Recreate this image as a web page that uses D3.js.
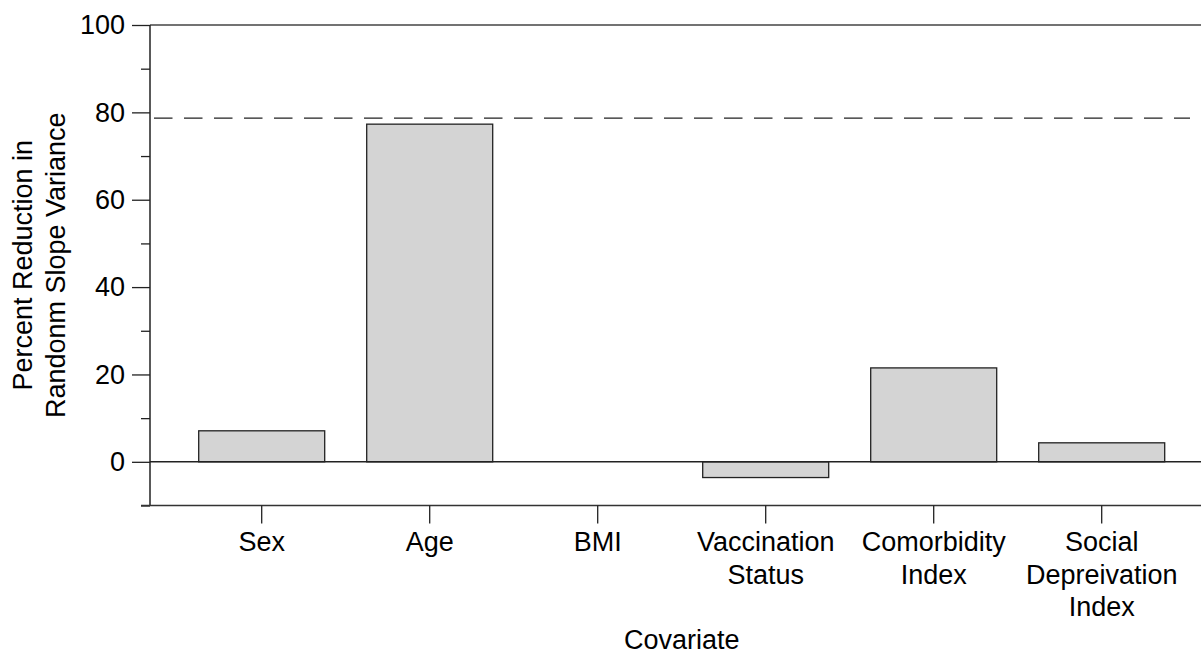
<!DOCTYPE html>
<html>
<head>
<meta charset="utf-8">
<script src="https://cdn.jsdelivr.net/npm/d3@7"></script>
<style>
  html, body { margin: 0; padding: 0; background: #fff; }
  svg { display: block; }
  text { font-family: "Liberation Sans", Arial, Helvetica, sans-serif; fill: #000; }
</style>
</head>
<body>
<svg id="chart" width="1201" height="654"></svg>
<script>
// ---- data ----
const categories = ["Sex", "Age", "BMI", "Vaccination Status", "Comorbidity Index", "Social Depreivation Index"];
const categoryLabelLines = [["Sex"], ["Age"], ["BMI"], ["Vaccination", "Status"], ["Comorbidity", "Index"], ["Social", "Depreivation", "Index"]];
const values = [7.1, 77.3, 0.0, -3.6, 21.5, 4.35];
const referenceValue = 78.7;
const majorTicks = [0, 20, 40, 60, 80, 100];
const minorTicks = [-10, 10, 30, 50, 70, 90];
const yDomain = [-10, 100];
const xTitle = "Covariate";
const yTitleLines = ["Percent Reduction in", "Randonm Slope Variance"];

// ---- layout ----
const W = 1201, H = 654;
const axisX = 150;
const rightX = 1201;
const fontSize = 27;
const lineGap = 32.5;
const ink = "#222";

const svg = d3.select("#chart");

const y = d3.scaleLinear().domain(yDomain).range([505.5, 25]);
const x = d3.scaleBand().domain(categories).range([177.7, 1185.7])
  .paddingInner(0.25).paddingOuter(0.125);

// bars
svg.append("g").selectAll("rect").data(values).join("rect")
  .attr("x", (d, i) => x(categories[i]))
  .attr("width", x.bandwidth())
  .attr("y", d => y(Math.max(0, d)))
  .attr("height", d => Math.abs(y(d) - y(0)))
  .attr("fill", "#d4d4d4")
  .attr("stroke", ink)
  .attr("stroke-width", 1.3);

// zero line
svg.append("line")
  .attr("x1", axisX).attr("x2", rightX)
  .attr("y1", y(0)).attr("y2", y(0))
  .attr("stroke", ink).attr("stroke-width", 1.5);

// top line
svg.append("line")
  .attr("x1", axisX).attr("x2", rightX)
  .attr("y1", y(100)).attr("y2", y(100))
  .attr("stroke", "#444").attr("stroke-width", 1.5);

// reference dashed line
svg.append("line")
  .attr("x1", axisX + 4).attr("x2", 1190)
  .attr("y1", y(referenceValue)).attr("y2", y(referenceValue))
  .attr("stroke", ink).attr("stroke-width", 1.3)
  .attr("stroke-dasharray", "18.5,11.5");

// y axis: major ticks with labels
const yMajor = d3.axisLeft(y).tickValues(majorTicks).tickSize(18).tickPadding(7).tickFormat(d3.format("d"));
const gyMaj = svg.append("g").attr("transform", `translate(${axisX},0)`).call(yMajor);
gyMaj.select(".domain").remove();
gyMaj.selectAll(".tick line").attr("stroke", ink).attr("stroke-width", 1.3);
gyMaj.selectAll(".tick text").attr("font-size", fontSize).attr("fill", "#000")
  .style("font-family", "'Liberation Sans', Arial, sans-serif");

// y axis: minor ticks
const yMinor = d3.axisLeft(y).tickValues(minorTicks).tickSize(9).tickFormat("");
const gyMin = svg.append("g").attr("transform", `translate(${axisX},0)`).call(yMinor);
gyMin.select(".domain").remove();
gyMin.selectAll(".tick line").attr("stroke", ink).attr("stroke-width", 1.3);

// y axis line
svg.append("line")
  .attr("x1", axisX).attr("x2", axisX)
  .attr("y1", y(100)).attr("y2", y(-10))
  .attr("stroke", ink).attr("stroke-width", 1.5);

// bottom axis line
svg.append("line")
  .attr("x1", axisX - 9).attr("x2", rightX)
  .attr("y1", y(-10)).attr("y2", y(-10))
  .attr("stroke", "#333").attr("stroke-width", 1.5);

// x axis ticks
const xAxis = d3.axisBottom(x).tickSize(18).tickFormat("");
const gx = svg.append("g").attr("transform", `translate(0,${y(-10)})`).call(xAxis);
gx.select(".domain").remove();
gx.selectAll(".tick line").attr("stroke", ink).attr("stroke-width", 1.3);

// x tick labels (multi-line)
const xl = svg.append("g");
categories.forEach((c, i) => {
  const t = xl.append("text")
    .attr("x", x(c) + x.bandwidth() / 2)
    .attr("y", 551)
    .attr("text-anchor", "middle")
    .attr("font-size", fontSize);
  categoryLabelLines[i].forEach((line, j) => {
    t.append("tspan").attr("x", x(c) + x.bandwidth() / 2)
      .attr("dy", j === 0 ? 0 : lineGap).text(line);
  });
});

// x title
const xr = x.range();
svg.append("text")
  .attr("x", (xr[0] + xr[1]) / 2)
  .attr("y", 649)
  .attr("text-anchor", "middle")
  .attr("font-size", fontSize)
  .text(xTitle);

// y title (two lines, rotated)
const yc = (y(100) + y(-10)) / 2;
const yt = svg.append("text")
  .attr("transform", `translate(32,${yc}) rotate(-90)`)
  .attr("text-anchor", "middle")
  .attr("font-size", fontSize);
yTitleLines.forEach((line, j) => {
  yt.append("tspan").attr("x", 0).attr("dy", j === 0 ? 0 : lineGap).text(line);
});
</script>
</body>
</html>
